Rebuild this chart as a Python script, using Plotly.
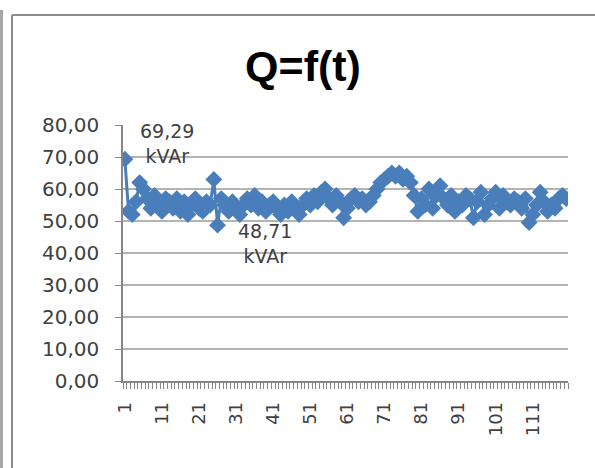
import plotly.graph_objects as go

# Reactive power readings Q (kVAr), one per time step t = 1..120
t_values = list(range(1, 121))
q_values = [
    69.29, 53, 52, 56, 62, 60, 57, 54, 58, 55,
    53, 57, 56, 54, 57, 53, 56, 52, 55, 57,
    54, 53, 56, 55, 63, 48.71, 57, 55, 53, 56,
    54, 52, 55, 57, 55, 58, 54, 56, 53, 55,
    56, 54, 52, 55, 53, 56, 54, 52, 55, 57,
    55, 58, 56, 59, 60, 57, 55, 58, 56, 51,
    54, 57, 58, 56, 57, 55, 56, 58, 60, 62,
    63, 64, 65, 64, 65, 63, 64, 62, 58, 53,
    57, 55, 60, 54, 58, 61, 57, 55, 58, 53,
    56, 55, 58, 57, 51, 56, 59, 52, 55, 57,
    59, 54, 58, 56, 55, 57, 56, 54, 57, 49.5,
    52, 55, 59, 56, 53, 55, 54, 57, 58, 57,
]
x_tick_values = list(range(1, 120, 10))
x_tick_labels = [str(v) for v in x_tick_values]
y_tick_values = list(range(0, 81, 10))
y_tick_labels = [f"{v},00" for v in y_tick_values]
labelled_points = [0, 25]          # indices carrying value labels
label_offsets = [(42, 16), (47, -18)]  # pixel shifts of those labels

W, H = 595, 468
ML, MR, MT, MB = 123, 27, 125, 87
PW, PH = W - ML - MR, H - MT - MB


def px(x):
    return (x - ML) / PW


def py(y):
    return (H - MB - y) / PH


BLUE = "#4A7EBB"
FONT = "DejaVu Sans"

fig = go.Figure()
fig.add_trace(go.Scatter(
    x=t_values, y=q_values, mode="lines+markers",
    line=dict(color=BLUE, width=3),
    marker=dict(symbol="diamond", size=13, color=BLUE),
    showlegend=False, hoverinfo="skip",
))

for idx, (dx, dy) in zip(labelled_points, label_offsets):
    val = q_values[idx]
    fig.add_annotation(
        x=t_values[idx], y=val, xref="x", yref="y",
        text=f"{val:.2f}".replace(".", ",") + "<br>kVAr",
        showarrow=False, xshift=dx, yshift=dy,
        font=dict(family=FONT, size=19, color="#404040"),
        align="center",
    )

# outer chart frame and window edge
shapes = [
    dict(type="line", xref="paper", yref="paper",
         x0=px(12), x1=px(600), y0=py(15), y1=py(15),
         line=dict(color="#8c8c8c", width=2)),
    dict(type="line", xref="paper", yref="paper",
         x0=px(12), x1=px(12), y0=py(15), y1=py(470),
         line=dict(color="#8c8c8c", width=2)),
    dict(type="rect", xref="paper", yref="paper",
         x0=px(-1), x1=px(3), y0=py(10), y1=py(470),
         line=dict(width=0), fillcolor="#a6a6a6"),
]

fig.update_layout(
    width=W, height=H,
    margin=dict(l=ML, r=MR, t=MT, b=MB),
    paper_bgcolor="white", plot_bgcolor="white",
    title=dict(text="<b>Q=f(t)</b>", xref="container", x=303 / W,
               xanchor="center", yref="container", y=1 - 66 / H,
               yanchor="middle",
               font=dict(family="Liberation Sans", size=43, color="#000000")),
    shapes=shapes,
    xaxis=dict(
        range=[0.5, 120.5], tickmode="array",
        tickvals=x_tick_values, ticktext=x_tick_labels,
        tickangle=-90, ticks="", showgrid=False, zeroline=False,
        showline=True, linecolor="#868686", linewidth=1.5,
        ticklabelstandoff=12,
        tickfont=dict(family=FONT, size=18, color="#404040"),
        minor=dict(ticks="outside", tick0=0.5, dtick=1, ticklen=6,
                   tickcolor="#868686", tickwidth=1, showgrid=False),
    ),
    yaxis=dict(
        range=[0, 80], tickmode="array",
        tickvals=y_tick_values, ticktext=y_tick_labels,
        ticks="outside", ticklen=6, tickcolor="#868686",
        showgrid=True, gridcolor="#b4b4b4", gridwidth=1.5,
        zeroline=False, showline=True, linecolor="#868686", linewidth=1.5,
        ticklabelstandoff=12,
        tickfont=dict(family=FONT, size=20, color="#404040"),
    ),
)

fig.write_html("out.html")
